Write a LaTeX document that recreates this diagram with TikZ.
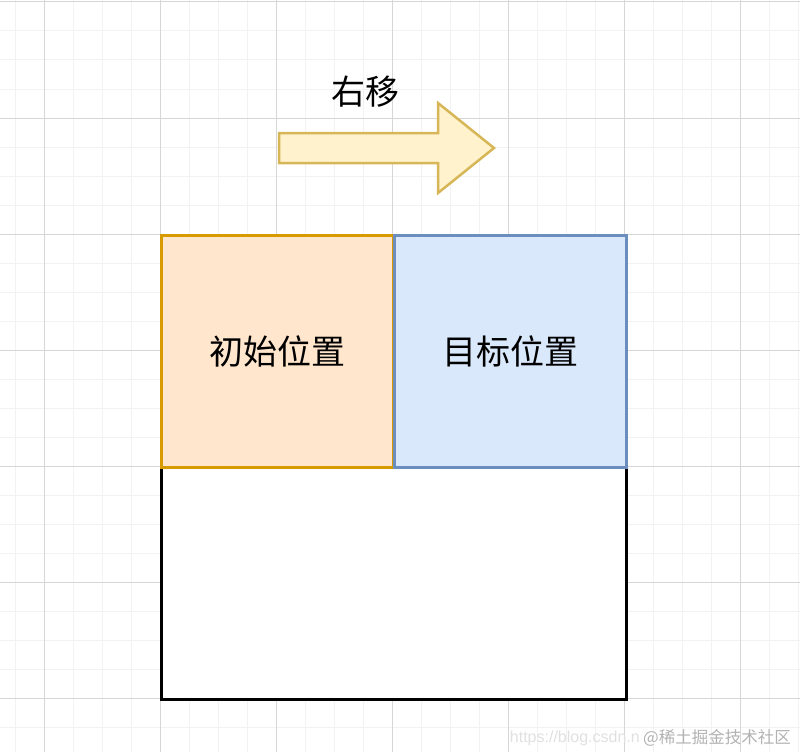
\documentclass[tikz,border=0pt]{standalone}
\usepackage{fontspec}
\setmainfont{Liberation Sans}
\newfontfamily\cjk{Noto Sans CJK SC}
\definecolor{gridminor}{HTML}{F2F2F2}
\definecolor{gridmajor}{HTML}{D6D6D6}
\definecolor{startfill}{HTML}{FFE6CC}
\definecolor{startline}{HTML}{D79B00}
\definecolor{goalfill}{HTML}{DAE8FC}
\definecolor{goalline}{HTML}{6C8EBF}
\definecolor{arrowfill}{HTML}{FFF2CC}
\definecolor{arrowline}{HTML}{D6B656}
\tikzset{
  cell/.style={draw, line width=3pt, minimum width=232pt, minimum height=232pt, inner sep=0pt, font=\cjk\fontsize{34}{34}\selectfont},
  mark text/.style={font=\cjk\fontsize{16.5}{16.5}\selectfont, text=black!30}
}

\begin{document}
\begin{tikzpicture}[x=1pt,y=-1pt]
	\useasboundingbox (0,0) rectangle (800,752);
	% grid
	\foreach \x in {15,44,...,800} \draw[gridminor, line width=1pt] (\x,0) -- (\x,752);
	\foreach \y in {2,31,...,752} \draw[gridminor, line width=1pt] (0,\y) -- (800,\y);
	\foreach \x in {44,160,...,800} \draw[gridmajor, line width=1pt] (\x,0) -- (\x,752);
	\foreach \y in {2,118,...,752} \draw[gridmajor, line width=1pt] (0,\y) -- (800,\y);
	% arrow
	\draw[arrowline, fill=arrowfill, line width=2.5pt, line join=miter]
		(279,133) -- (438,133) -- (438,103) -- (494,148) -- (438,193) -- (438,163) -- (279,163) -- cycle;
	\node[font=\cjk\fontsize{34}{34}\selectfont] (shift) at (365,92) {右移};
	% boxes
	\node[cell, draw=black, fill=white, minimum width=465pt] (free) at (393.5,583) {};
	\node[cell, draw=startline, fill=startfill] (start) at (277,351) {初始位置};
	\node[cell, draw=goalline, fill=goalfill] (goal) at (510,351) {目标位置};
	% watermark
	\node[mark text, text=black!12, anchor=east, inner sep=0pt, font=\fontsize{16}{16}\selectfont] (url) at (640,738) {https://blog.csdn.n};
	\node[mark text, anchor=west, inner sep=0pt] (site) at (643,738) {@稀土掘金技术社区};
\end{tikzpicture}
\end{document}
